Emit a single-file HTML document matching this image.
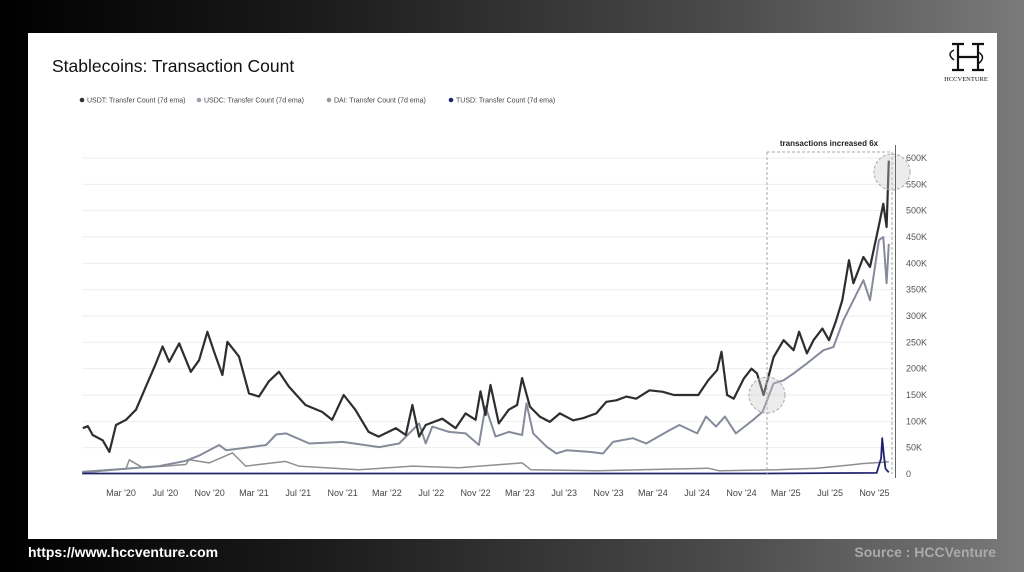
<!DOCTYPE html>
<html><head><meta charset="utf-8">
<style>
html,body{margin:0;padding:0;width:1024px;height:572px;overflow:hidden;font-family:"Liberation Sans",sans-serif;}
body{background:linear-gradient(90deg,#000 0%,#1a1a1a 30%,#4a4a4a 70%,#7a7a7a 100%);position:relative;}
#card{position:absolute;left:28px;top:33px;width:969px;height:506px;background:#fff;}
#foot-url{position:absolute;left:28px;top:544px;color:#fff;font-weight:bold;font-size:14px;}
#foot-src{position:absolute;right:28px;top:544px;color:#aaa;font-weight:bold;font-size:14px;}
svg{position:absolute;left:0;top:0;}
</style></head><body>
<div id="card"></div>
<svg id="chart" width="1024" height="572">
  <text x="52" y="72" font-size="17.5" fill="#111">Stablecoins: Transaction Count</text>
  <g font-size="7" fill="#444">
    <g><circle cx="82" cy="100" r="2.3" fill="#333"/><text x="87" y="102.5">USDT: Transfer Count (7d ema)</text></g>
    <g><circle cx="199" cy="100" r="2.3" fill="#9aa0ae"/><text x="204" y="102.5">USDC: Transfer Count (7d ema)</text></g>
    <g><circle cx="329" cy="100" r="2.3" fill="#999"/><text x="334" y="102.5">DAI: Transfer Count (7d ema)</text></g>
    <g><circle cx="451" cy="100" r="2.3" fill="#232470"/><text x="456" y="102.5">TUSD: Transfer Count (7d ema)</text></g>
  </g>
  <g>
    <path d="M952 44 H964 M958 44 V70 M952 70 H964 M972 44 H984 M978 44 V70 M972 70 H984 M958 57 H978" stroke="#111" stroke-width="2.2" fill="none"/>
    <path d="M954 50 q-8 4 0 10 M978 52 q9 5 0 12" stroke="#111" stroke-width="1.5" fill="none"/>
    <text x="966" y="81" font-size="6.5" font-family="Liberation Serif,serif" text-anchor="middle" fill="#111">HCCVENTURE</text>
  </g>
  <g id="grid"></g>
  <g id="series"></g>
  <g id="xaxis" font-size="9" fill="#444"></g>
  <g id="yaxis" font-size="9" fill="#555"></g>
  <g>
    <line x1="767" y1="152" x2="767" y2="474" stroke="#aaa" stroke-dasharray="3,2" stroke-width="1"/>
    <line x1="767" y1="152" x2="892" y2="152" stroke="#aaa" stroke-dasharray="3,2" stroke-width="1"/>
    <line x1="892" y1="152" x2="892" y2="474" stroke="#aaa" stroke-dasharray="3,2" stroke-width="1"/>
    <text x="829" y="146" font-size="8" font-weight="bold" text-anchor="middle" fill="#222">transactions increased 6x</text>
    <circle cx="767" cy="395" r="18" fill="rgba(200,200,200,0.35)" stroke="#aaa" stroke-dasharray="3,2"/>
    <circle cx="892" cy="172" r="18" fill="rgba(200,200,200,0.35)" stroke="#aaa" stroke-dasharray="3,2"/>
  </g>
  <line x1="895.5" y1="145" x2="895.5" y2="478" stroke="#666" stroke-width="1"/>
</svg>
<div id="foot-url">https://www.hccventure.com</div>
<div id="foot-src">Source : HCCVenture</div>
<script>
// months since Jan 2020 (0 = Jan '20)
const usdtMonths=[-1.45,-1.0,-0.55,0.35,0.95,1.55,2.45,3.35,4.25,5.15,5.75,6.35,7.25,8.3,9.05,9.8,10.4,11.15,11.6,12.65,13.55,14.45,15.35,16.25,17.15,18.65,20.15,21.05,22.1,23.15,24.35,25.25,26.8,27.7,28.3,28.9,29.5,31.0,32.2,33.1,34.0,34.45,34.9,35.35,36.1,37.0,37.75,38.2,38.9,39.8,40.7,41.6,42.8,43.7,44.9,45.8,46.7,47.6,48.5,49.7,50.9,51.9,53.1,54.1,55.0,55.8,56.2,56.7,57.3,58.2,58.9,59.4,60.0,60.9,61.8,62.7,63.2,63.9,64.5,65.3,65.9,66.5,67.1,67.7,68.1,69.0,69.6,70.4,70.8,71.1,71.3];
const usdtValues=[87,91,74,64,42,93,103,122,166,210,242,213,248,194,216,270,232,188,251,223,153,147,176,194,166,131,118,103,150,122,80,71,87,74,131,71,93,105,87,115,103,157,112,169,96,122,131,182,128,109,99,115,102,106,115,137,140,147,143,159,156,150,150,150,178,197,232,150,143,181,200,191,150,222,254,235,270,229,254,276,254,289,330,406,362,412,393,472,513,469,595];
const usdcMonths=[-1.5,2.45,5.45,7.85,9.05,10.85,11.5,13.25,15.1,16.0,16.9,19.0,22.0,24.7,25.3,27.1,28.9,29.5,30.1,31.6,33.1,34.3,34.9,35.8,37.0,38.2,38.6,39.2,40.4,41.3,42.2,44.3,45.5,46.4,48.2,49.4,51.5,52.4,54.0,54.8,55.7,56.5,57.5,59.0,59.9,60.9,61.8,62.7,63.9,65.4,66.3,67.2,68.1,69.0,69.6,70.4,70.8,71.1,71.3];
const usdcValues=[4,10,15,25,35,55,45,50,55,75,77,58,61,53,51,58,96,58,90,80,77,55,128,71,80,74,134,77,52,39,45,42,39,61,68,58,83,93,77,109,90,109,77,102,118,172,178,191,210,235,241,292,330,368,330,444,450,362,437];
const daiMonths=[-1.5,2.45,2.75,3.95,7.85,8.15,9.95,12.05,13.25,14.45,16.85,18.05,23.45,28.3,32.5,38.2,39.0,45.0,55.0,56.0,61.2,64.8,67.8,69.0,71.3];
const daiValues=[2,10,27,12,18,27,21,40,15,18,24,15,8,15,12,21,8,6,11,6,8,11,17,20,23];
const tusdMonths=[-1.5,20,40,60,70.2,70.6,70.7,70.85,71.0,71.3];
const tusdValues=[1,1,1,1,2,30,68,35,10,3];
const yTicks=[0,50,100,150,200,250,300,350,400,450,500,550,600];
const xTickLabels=["Mar '20","Jul '20","Nov '20","Mar '21","Jul '21","Nov '21","Mar '22","Jul '22","Nov '22","Mar '23","Jul '23","Nov '23","Mar '24","Jul '24","Nov '24","Mar '25","Jul '25","Nov '25"];
const xTickMonths=[2,6,10,14,18,22,26,30,34,38,42,46,50,54,58,62,66,70];

const NS="http://www.w3.org/2000/svg";
function xScale(m){return 121+(m-2)*11.08;}
function yScale(v){return 474-v*316/600;}
const grid=document.getElementById('grid'),yaxis=document.getElementById('yaxis'),xaxis=document.getElementById('xaxis'),series=document.getElementById('series');
yTicks.forEach(function(t){
  const y=yScale(t);
  if(t>0){const l=document.createElementNS(NS,'line');
    l.setAttribute('x1',82);l.setAttribute('x2',895);l.setAttribute('y1',y);l.setAttribute('y2',y);
    l.setAttribute('stroke','#eeeeee');l.setAttribute('stroke-width','1');
    
    
    grid.appendChild(l);}
  const tx=document.createElementNS(NS,'text');
  tx.setAttribute('x',906);tx.setAttribute('y',y+3);
  tx.textContent=t===0?'0':t+'K';
  
  
  yaxis.appendChild(tx);
});
xTickLabels.forEach(function(lab,i){
  const tx=document.createElementNS(NS,'text');
  tx.setAttribute('x',xScale(xTickMonths[i]));tx.setAttribute('y',496);
  tx.setAttribute('text-anchor','middle');
  tx.textContent=lab;
  
  
  xaxis.appendChild(tx);
});
function drawLine(ms,vs,color,w,name){
  let d='';
  for(let i=0;i<ms.length;i++){d+=(i?'L':'M')+xScale(ms[i]).toFixed(1)+' '+yScale(vs[i]).toFixed(1);}
  const p=document.createElementNS(NS,'path');
  p.setAttribute('d',d);p.setAttribute('fill','none');p.setAttribute('stroke',color);
  p.setAttribute('stroke-width',w);p.setAttribute('stroke-linejoin','round');
  
  
  series.appendChild(p);
}
drawLine(daiMonths,daiValues,'#8f8f8f',1.5,'dai-line');
drawLine(usdcMonths,usdcValues,'#858b9b',2,'usdc-line');
drawLine(usdtMonths,usdtValues,'#2e2e2e',2.2,'usdt-line');
drawLine(tusdMonths,tusdValues,'#22236e',1.8,'tusd-line');
</script>
</body></html>
